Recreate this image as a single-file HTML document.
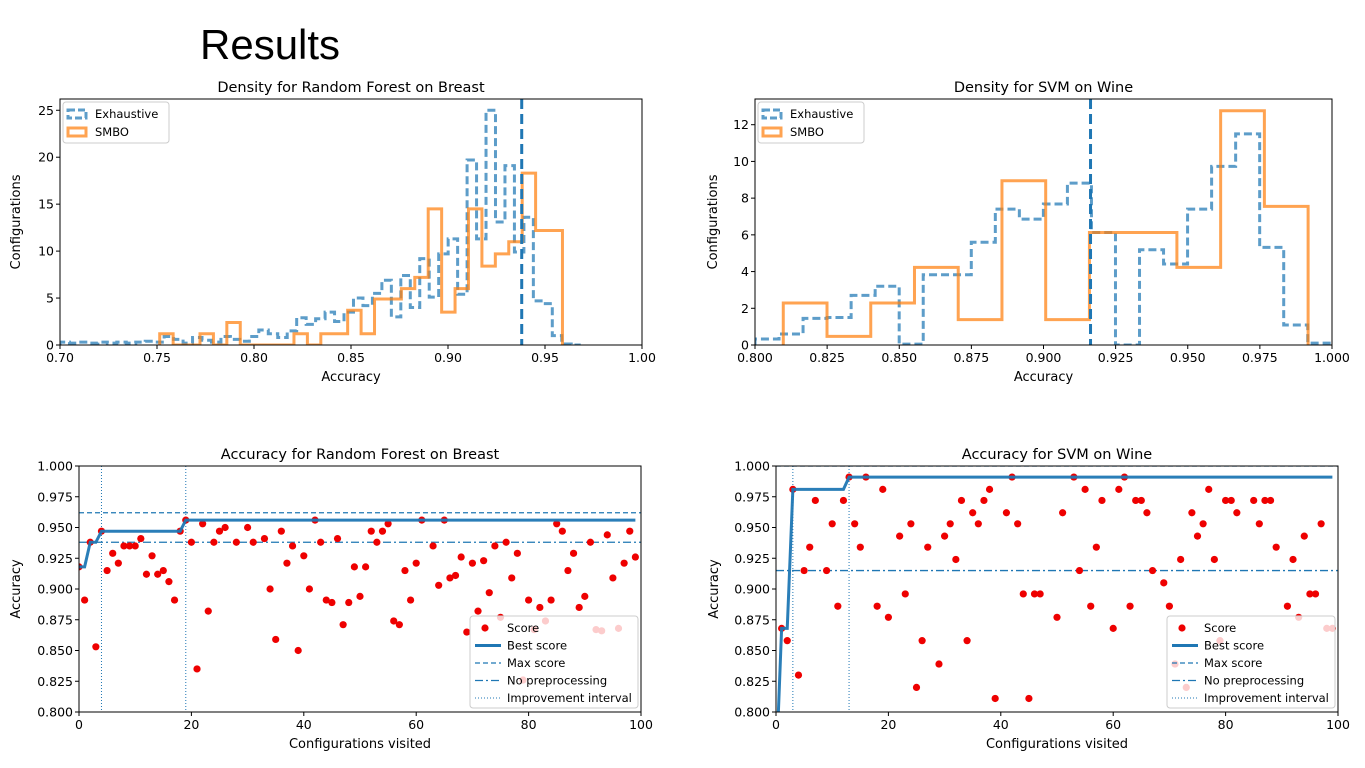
<!DOCTYPE html>
<html><head><meta charset="utf-8"><style>
html,body{margin:0;padding:0;background:#fff;}
svg{display:block;font-family:"DejaVu Sans","Liberation Sans",sans-serif;}
</style></head><body>
<svg id="chart" width="1365" height="768" viewBox="0 0 1365 768">
<text x="200" y="59" font-size="42" font-family="Liberation Sans, sans-serif" fill="#000">Results</text>
</svg>
<script>
// ---------- data ----------
const rfExhStart = 0.70, rfExhWidth = 0.00488;
const rfExhaustive = [0.3,0.2,0.3,0.2,0.3,0.2,0.3,0.2,0.3,0.4,
 0.3,0.9,0.6,0.2,0.8,0.5,0.3,0.9,0.6,0.4,
 0.9,1.6,1.2,0.8,1.5,2.9,2.2,2.8,3.5,2.5,
 3.5,5.0,4.2,5.5,6.9,3.0,7.4,4.0,9.2,5.1,
 9.7,11.3,5.4,19.7,11.3,25,13.1,19.1,9.9,13.6,
 4.7,4.4,1.0,0.1,0];
const rfSmboStart = 0.7514, rfSmboWidth = 0.00692;
const rfSmbo = [1.2,0,0,1.2,0,2.4,0,0,0,0,1.2,0,1.2,1.2,3.7,1.2,4.9,4.9,6,7.2,14.5,3.5,6,14.5,8.4,9.7,11,18.3,12.2,12.2];
const rfBestLine = 0.938;
const svmExhStart = 0.80, svmExhWidth = 0.00833;
const svmExhaustive = [0.33,0.6,1.45,1.5,2.7,3.2,0.05,3.83,3.83,5.6,7.4,6.86,7.68,8.82,6.13,0,5.19,4.41,7.4,9.73,11.5,5.32,1.09,0.1];
const svmSmboStart = 0.8098, svmSmboWidth = 0.01516;
const svmSmbo = [2.29,0.47,2.29,4.23,1.38,8.95,1.38,6.13,6.13,4.23,12.76,7.55];
const svmBestLine = 0.9163;

const rfScores = [.918,.891,.938,.853,.947,.915,.929,.921,.935,.935,
 .935,.941,.912,.927,.912,.915,.906,.891,.947,.956,
 .938,.835,.953,.882,.938,.947,.950,null,.938,null,
 .950,.938,null,.941,.900,.859,.947,.921,.935,.850,
 .927,.900,.956,.938,.891,.889,.941,.871,.889,.918,
 .894,.918,.947,.938,.947,.953,.874,.871,.915,.891,
 .921,.956,null,.935,.903,.956,.909,.911,.926,.865,
 .921,.882,.923,.897,.935,.877,.938,.909,.929,.826,
 .891,.867,.885,.874,.891,.953,.947,.915,.929,.885,
 .894,.938,.867,.866,.944,.909,.868,.921,.947,.926];
const rfMaxScore = 0.962, rfNoPre = 0.938;
const rfImprove = [4, 19];

const svmScores = [.75,.868,.858,.981,.830,.915,.934,.972,null,.915,
 .953,.886,.972,.991,.953,.934,.991,null,.886,.981,
 .877,null,.943,.896,.953,.820,.858,.934,null,.839,
 .943,.953,.924,.972,.858,.962,.953,.972,.981,.811,
 null,.962,.991,.953,.896,.811,.896,.896,null,null,
 .877,.962,null,.991,.915,.981,.886,.934,.972,null,
 .868,.981,.991,.886,.972,.972,.962,.915,null,.905,
 .886,.839,.924,.820,.962,.943,.953,.981,.924,.858,
 .972,.972,.962,null,null,.972,.953,.972,.972,.934,
 null,.886,.924,.877,.943,.896,.896,.953,.868,.868];
const svmMaxScore = 1.0, svmNoPre = 0.915;
const svmImprove = [3, 13];

const rfXTicks = [0.70,0.75,0.80,0.85,0.90,0.95,1.00];
const rfYTicks = [0,5,10,15,20,25];
const svmXTicks = [0.800,0.825,0.850,0.875,0.900,0.925,0.950,0.975,1.000];
const svmYTicks = [0,2,4,6,8,10,12];
const accXTicks = [0,20,40,60,80,100];
const accYTicks = [0.800,0.825,0.850,0.875,0.900,0.925,0.950,0.975,1.000];

// ---------- helpers ----------
const NS = 'http://www.w3.org/2000/svg';
const svg = document.getElementById('chart');
const BLUE = '#1f77b4', ORANGE = '#ff7f0e';
function mk(tag, attrs, parent) {
  const e = document.createElementNS(NS, tag);
  for (const k in attrs) e.setAttribute(k, attrs[k]);
  (parent || svg).appendChild(e);
  return e;
}
function txt(x, y, s, size, anchor, parent, rot) {
  const t = mk('text', {x: x, y: y, 'font-size': size, 'text-anchor': anchor || 'middle', fill: '#000'}, parent);
  if (rot) t.setAttribute('transform', 'rotate(-90 ' + x + ' ' + y + ')');
  t.textContent = s;
  return t;
}
let clipId = 0;
function makeAxes(name, px0, px1, py0, py1, xmin, xmax, ymin, ymax, xt, xdec, yt, ydec, title, xlabel, ylabel, yoff) {
  const g = mk('g', {});
  
  
  const sx = v => px0 + (v - xmin) / (xmax - xmin) * (px1 - px0);
  const sy = v => py1 - (v - ymin) / (ymax - ymin) * (py1 - py0);
  const id = 'clip' + (clipId++);
  const cp = mk('clipPath', {id: id}, g);
  mk('rect', {x: px0, y: py0, width: px1 - px0, height: py1 - py0}, cp);
  const plot = mk('g', {'clip-path': 'url(#' + id + ')'}, g);
  
  
  const ax = mk('g', {}, g);
  
  
  xt.forEach(v => {
    const x = sx(v);
    mk('line', {x1: x, x2: x, y1: py1, y2: py1 + 4, stroke: '#000', 'stroke-width': 1}, ax);
    const t = txt(x, py1 + 17, v.toFixed(xdec), 12.5, 'middle', ax);
    
    
  });
  yt.forEach(v => {
    const y = sy(v);
    mk('line', {x1: px0 - 4, x2: px0, y1: y, y2: y, stroke: '#000', 'stroke-width': 1}, ax);
    const t = txt(px0 - 6, y + 4.5, v.toFixed(ydec), 12.5, 'end', ax);
    
    
  });
  const tt = txt((px0 + px1) / 2, py0 - 7, title, 14.5, 'middle', g);
  
  
  const xl = txt((px0 + px1) / 2, py1 + 36, xlabel, 13, 'middle', g);
  
  
  const yl = txt(px0 - yoff, (py0 + py1) / 2, ylabel, 13, 'middle', g, true);
  
  
  return {g, plot, ax, sx, sy, px0, px1, py0, py1};
}
function frame(A) {
  const r = mk('rect', {x: A.px0, y: A.py0, width: A.px1 - A.px0, height: A.py1 - A.py0, fill: 'none', stroke: '#000', 'stroke-width': 1}, A.g);
  
  
}
function stepHist(A, start, width, vals, color, dash, name) {
  let d = 'M' + A.sx(start) + ',' + A.sy(0);
  vals.forEach((v, i) => {
    const xa = A.sx(start + i * width), xb = A.sx(start + (i + 1) * width);
    d += ' L' + xa + ',' + A.sy(v) + ' L' + xb + ',' + A.sy(v);
  });
  d += ' L' + A.sx(start + vals.length * width) + ',' + A.sy(0);
  const p = mk('path', {d: d, fill: 'none', stroke: color, 'stroke-width': 3, 'stroke-opacity': 0.72}, A.plot);
  if (dash) p.setAttribute('stroke-dasharray', dash);
  
  
}
function histLegend(A) {
  const g = mk('g', {}, A.g);
  
  
  const x = A.px0 + 3, y = A.py0 + 3;
  mk('rect', {x: x, y: y, width: 106, height: 41, rx: 3, fill: '#fff', 'fill-opacity': 0.85, stroke: '#ccc'}, g);
  const e1 = mk('rect', {x: x + 5, y: y + 8, width: 18, height: 8, fill: 'none', stroke: BLUE, 'stroke-opacity': 0.72, 'stroke-width': 3, 'stroke-dasharray': '7,3'}, g);
  
  
  txt(x + 32, y + 16, 'Exhaustive', 11.5, 'start', g);
  const e2 = mk('rect', {x: x + 5, y: y + 26, width: 18, height: 8, fill: 'none', stroke: ORANGE, 'stroke-opacity': 0.72, 'stroke-width': 3}, g);
  
  
  txt(x + 32, y + 34, 'SMBO', 11.5, 'start', g);
}
function accPanel(A, scores, maxScore, noPre, improve) {
  improve.forEach(v => {
    const l = mk('line', {x1: A.sx(v), x2: A.sx(v), y1: A.py0, y2: A.py1, stroke: BLUE, 'stroke-width': 1, 'stroke-dasharray': '1,2'}, A.plot);
    
    
  });
  const l1 = mk('line', {x1: A.px0, x2: A.px1, y1: A.sy(maxScore), y2: A.sy(maxScore), stroke: BLUE, 'stroke-width': 1.3, 'stroke-dasharray': '5,3'}, A.plot);
  
  
  const l2 = mk('line', {x1: A.px0, x2: A.px1, y1: A.sy(noPre), y2: A.sy(noPre), stroke: BLUE, 'stroke-width': 1.3, 'stroke-dasharray': '8,3,2,3'}, A.plot);
  
  
  scores.forEach((v, i) => {
    if (v === null) return;
    const c = mk('circle', {cx: A.sx(i), cy: A.sy(v), r: 3.6, fill: '#ee0000'}, A.plot);
    
    
  });
  let best = -Infinity, pts = [];
  scores.forEach((v, i) => {
    if (v !== null && v > best) best = v;
    if (best > -Infinity) pts.push(A.sx(i) + ',' + A.sy(best));
  });
  const bl = mk('polyline', {points: pts.join(' '), fill: 'none', stroke: BLUE, 'stroke-width': 3, 'stroke-opacity': 0.95}, A.plot);
  
  
  const g = mk('g', {}, A.g);
  
  
  const x = A.px1 - 171, y = A.py1 - 96;
  mk('rect', {x: x, y: y, width: 168, height: 92, rx: 3, fill: '#fff', 'fill-opacity': 0.8, stroke: '#ccc'}, g);
  const rows = ['Score', 'Best score', 'Max score', 'No preprocessing', 'Improvement interval'];
  rows.forEach((s, k) => {
    const yy = y + 12 + k * 17.5;
    if (k === 0) mk('circle', {cx: x + 15, cy: yy, r: 3.6, fill: '#ee0000'}, g);
    if (k === 1) mk('line', {x1: x + 5, x2: x + 31, y1: yy, y2: yy, stroke: BLUE, 'stroke-width': 3}, g);
    if (k === 2) mk('line', {x1: x + 5, x2: x + 31, y1: yy, y2: yy, stroke: BLUE, 'stroke-width': 1.3, 'stroke-dasharray': '5,3'}, g);
    if (k === 3) mk('line', {x1: x + 5, x2: x + 31, y1: yy, y2: yy, stroke: BLUE, 'stroke-width': 1.3, 'stroke-dasharray': '8,3,2,3'}, g);
    if (k === 4) mk('line', {x1: x + 5, x2: x + 31, y1: yy, y2: yy, stroke: BLUE, 'stroke-width': 1, 'stroke-dasharray': '1,2'}, g);
    const t = txt(x + 37, yy + 4, s, 11.5, 'start', g);
    
    
  });
}

// ---------- panels ----------
const A1 = makeAxes('density-rf-breast', 60, 642, 99, 345, 0.70, 1.00, 0, 26.2, rfXTicks, 2, rfYTicks, 0,
  'Density for Random Forest on Breast', 'Accuracy', 'Configurations', 40);
stepHist(A1, rfExhStart, rfExhWidth, rfExhaustive, BLUE, '8,4', 'exhaustive-histogram');
stepHist(A1, rfSmboStart, rfSmboWidth, rfSmbo, ORANGE, null, 'smbo-histogram');
const v1 = mk('line', {x1: A1.sx(rfBestLine), x2: A1.sx(rfBestLine), y1: A1.py0, y2: A1.py1, stroke: BLUE, 'stroke-width': 3, 'stroke-dasharray': '10,5'}, A1.plot);


frame(A1); histLegend(A1);

const A2 = makeAxes('density-svm-wine', 755, 1332, 99, 345, 0.80, 1.00, 0, 13.4, svmXTicks, 3, svmYTicks, 0,
  'Density for SVM on Wine', 'Accuracy', 'Configurations', 38);
stepHist(A2, svmExhStart, svmExhWidth, svmExhaustive, BLUE, '8,4', 'exhaustive-histogram');
stepHist(A2, svmSmboStart, svmSmboWidth, svmSmbo, ORANGE, null, 'smbo-histogram');
const v2 = mk('line', {x1: A2.sx(svmBestLine), x2: A2.sx(svmBestLine), y1: A2.py0, y2: A2.py1, stroke: BLUE, 'stroke-width': 3, 'stroke-dasharray': '10,5'}, A2.plot);


frame(A2); histLegend(A2);

const A3 = makeAxes('accuracy-rf-breast', 79, 641, 466, 712, 0, 100, 0.8, 1.0, accXTicks, 0, accYTicks, 3,
  'Accuracy for Random Forest on Breast', 'Configurations visited', 'Accuracy', 59);
accPanel(A3, rfScores, rfMaxScore, rfNoPre, rfImprove);
frame(A3);

const A4 = makeAxes('accuracy-svm-wine', 776, 1338, 466, 712, 0, 100, 0.8, 1.0, accXTicks, 0, accYTicks, 3,
  'Accuracy for SVM on Wine', 'Configurations visited', 'Accuracy', 58);
accPanel(A4, svmScores, svmMaxScore, svmNoPre, svmImprove);
frame(A4);
</script>
</body></html>
